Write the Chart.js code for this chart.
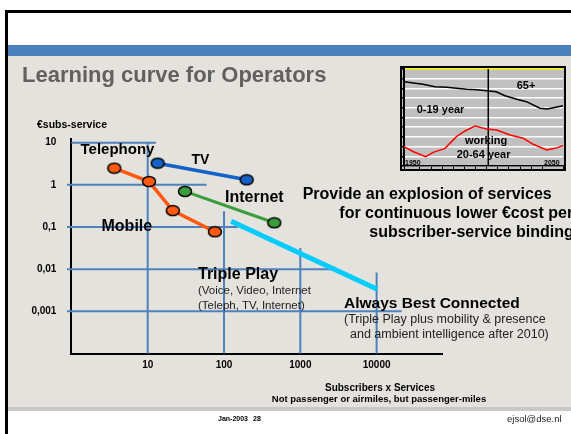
<!DOCTYPE html>
<html>
<head>
<meta charset="utf-8">
<script src="https://cdn.jsdelivr.net/npm/chart.js@4.4.0/dist/chart.umd.min.js"></script>
<style>
body { margin: 0; width: 571px; height: 434px; position: relative; overflow: hidden; background: #fff; font-family: "Liberation Sans", Arial, sans-serif; }
.box { position: absolute; }
.txt { position: absolute; white-space: nowrap; line-height: 1; color: #000; font-weight: bold; }
.thin { font-weight: normal; color: #222; }
#main { position: absolute; left: 0; top: 0; }
#inset { position: absolute; left: 400px; top: 66px; width: 166px; height: 105px; box-sizing: border-box; border: 2px solid #000; background: #c0c0c0; }
#insetChart { position: absolute; left: 0; top: 0; }
</style>
</head>
<body>
<div class="box" style="left:5px;top:10px;width:566px;height:3px;background:#000"></div>
<div class="box" style="left:5px;top:10px;width:3px;height:424px;background:#000"></div>
<div class="box" style="left:8px;top:45px;width:563px;height:11px;background:#4a80bc"></div>
<div class="box" style="left:8px;top:56px;width:563px;height:351px;background:#e4e2dc"></div>
<div class="box" style="left:8px;top:407px;width:563px;height:4px;background:#c8c8c8"></div>

<canvas id="main" width="571" height="434"></canvas>

<div id="inset"><canvas id="insetChart" width="162" height="101"></canvas></div>

<div class="txt" style="left:22px;top:63.5px;font-size:22px;color:#616161">Learning curve for Operators</div>
<div class="txt" style="left:37px;top:119px;font-size:10.5px">€subs-service</div>
<div class="txt" style="left:80.5px;top:141.3px;font-size:15px">Telephony</div>
<div class="txt" style="left:191.5px;top:151.6px;font-size:14px">TV</div>
<div class="txt" style="left:225px;top:189.4px;font-size:16px">Internet</div>
<div class="txt" style="left:101.5px;top:217.9px;font-size:16px">Mobile</div>
<div class="txt" style="left:198px;top:265.9px;font-size:16px">Triple Play</div>
<div class="txt thin" style="left:198px;top:284.7px;font-size:11.5px">(Voice, Video, Internet</div>
<div class="txt thin" style="left:198px;top:299.7px;font-size:11.5px">(Teleph, TV, Internet)</div>
<div class="txt" style="left:344px;top:294.8px;font-size:15.5px">Always Best Connected</div>
<div class="txt thin" style="left:344px;top:312.9px;font-size:12.5px">(Triple Play plus mobility &amp; presence</div>
<div class="txt thin" style="left:350px;top:327.9px;font-size:12.5px">and ambient intelligence after 2010)</div>
<div class="txt" style="left:302.7px;top:186.4px;font-size:16px">Provide an explosion of services</div>
<div class="txt" style="left:339.3px;top:205.4px;font-size:16px">for continuous lower €cost per</div>
<div class="txt" style="left:369.3px;top:224.4px;font-size:16px">subscriber-service binding</div>
<div class="txt" style="left:380px;top:382.5px;font-size:10px;transform:translateX(-50%)">Subscribers x Services</div>
<div class="txt" style="left:379px;top:393.9px;font-size:9.5px;transform:translateX(-50%)">Not passenger or airmiles, but passenger-miles</div>
<div class="txt" style="left:218px;top:415px;font-size:7px">Jan-2003</div>
<div class="txt" style="left:253px;top:415px;font-size:7px">28</div>
<div class="txt thin" style="left:507px;top:414px;font-size:9.5px">ejsol@dse.nl</div>

<div class="txt" style="left:516.7px;top:79.7px;font-size:11px">65+</div>
<div class="txt" style="left:416.7px;top:104.2px;font-size:11px">0-19 year</div>
<div class="txt" style="left:465px;top:135.4px;font-size:11px">working</div>
<div class="txt" style="left:456.7px;top:148.7px;font-size:11px">20-64 year</div>
<div class="txt" style="left:405px;top:159px;font-size:7px">1950</div>
<div class="txt" style="left:544px;top:159px;font-size:7px">2050</div>

<script>
// subscribers x services (x) against euro per subscriber-service (y)
const mobileX = [3.65, 10.4, 21.3, 76];
const mobileY = [2.49, 1.2, 0.245, 0.077];
const tvX = [13.5, 198];
const tvY = [3.27, 1.32];
const internetX = [30.8, 456];
const internetY = [0.7, 0.126];
const tripleX = [124, 10200];
const tripleY = [0.137, 0.00336];

const xTicks = [10, 100, 1000, 10000];
const xTickLabels = ["10", "100", "1000", "10000"];
const yTicks = [10, 1, 0.1, 0.01, 0.001];
const yTickLabels = ["10", "1", "0,1", "0,01", "0,001"];

// the staircase grid: each decade line only runs part way
const gridRows = [10, 1, 0.1, 0.01, 0.001];
const gridRowFrom = [1, 0.875, 0.875, 0.875, 0.875];
const gridRowTo = [12.8, 59, 152, 2850, 21300];
const gridCols = [10, 100, 1000, 10000];
const gridColTop = [10, 0.236, 0.032, 0.0083];

// inset: population shares 1950-2050
const oldYears = [1950, 1962, 1969.5, 1977, 1983, 1989.5, 1995.7, 2002, 2008, 2013.5, 2021, 2027, 2035.5, 2040, 2044, 2050];
const oldShare = [86.9, 84.2, 81.8, 81.1, 80.1, 79.1, 78.7, 77.6, 76.6, 72.5, 68.8, 66.3, 59.5, 58.8, 60.1, 62.2];
const youngYears = [1950, 1956, 1963.6, 1968.4, 1975.8, 1983, 1988.4, 1994.7, 2002, 2008.3, 2016.7, 2025, 2031.3, 2039.7, 2045, 2050];
const youngShare = [19.9, 14.7, 9.6, 14.1, 18.2, 30.2, 36.1, 41.2, 38.1, 37.1, 32, 28.6, 22.4, 16.5, 18.2, 20.9];
const nowYear = 2003;

const toPoints = (xs, ys) => xs.map((x, i) => ({ x: x, y: ys[i] }));

const ellipseMarker = (fill) => {
	const c = document.createElement("canvas");
	c.width = 16;
	c.height = 13;
	const g = c.getContext("2d");
	g.beginPath();
	g.ellipse(8, 6.5, 6.5, 5, 0, 0, Math.PI * 2);
	g.fillStyle = fill;
	g.fill();
	g.lineWidth = 1.5;
	g.strokeStyle = "#000";
	g.stroke();
	return c;
};

const gridColor = "#4f81bd";
const gridSets = [];
gridRows.forEach((v, i) => {
	gridSets.push({
		data: [{ x: gridRowFrom[i], y: v }, { x: gridRowTo[i], y: v }],
		borderColor: gridColor, borderWidth: 2, pointRadius: 0, showLine: true, clip: false, order: 10,
	});
});
gridCols.forEach((v, i) => {
	gridSets.push({
		data: [{ x: v, y: gridColTop[i] }, { x: v, y: 0.0001 }],
		borderColor: gridColor, borderWidth: 2, pointRadius: 0, showLine: true, clip: false, order: 10,
	});
});

const series = (xs, ys, color, width) => ({
	data: toPoints(xs, ys),
	borderColor: color,
	borderWidth: width,
	showLine: true,
	pointStyle: ellipseMarker(color),
	pointRadius: 6,
	clip: false,
	order: 1,
});

const tickFont = { family: "Liberation Sans", size: 10, weight: "bold" };

new Chart(document.getElementById("main"), {
	type: "scatter",
	data: {
		datasets: [
			...gridSets,
			{
				data: toPoints(tripleX, tripleY),
				borderColor: "#00ccff", borderWidth: 5, pointRadius: 0, showLine: true, order: 2,
			},
			series(mobileX, mobileY, "#ff5a10", 3.5),
			series(tvX, tvY, "#1462c8", 3.5),
			series(internetX, internetY, "#3a9c3a", 3),
		],
	},
	options: {
		responsive: false,
		animation: false,
		devicePixelRatio: 1,
		layout: { padding: { left: 0, top: 139, right: 129, bottom: 0 } },
		plugins: { legend: { display: false }, tooltip: { enabled: false } },
		scales: {
			x: {
				type: "logarithmic",
				min: 1,
				max: 71900,
				afterFit: (s) => { s.height = 80.5; },
				afterBuildTicks: (s) => { s.ticks = xTicks.map((v) => ({ value: v })); },
				grid: { display: false, drawTicks: false },
				border: { display: true, color: "#000", width: 2 },
				ticks: {
					color: "#000",
					font: tickFont,
					padding: 6,
					maxRotation: 0,
					autoSkip: false,
					callback: (v) => xTickLabels[xTicks.indexOf(v)],
				},
			},
			y: {
				type: "logarithmic",
				min: 0.0001,
				max: 12.24,
				afterFit: (s) => { s.width = 71.4; },
				afterBuildTicks: (s) => { s.ticks = yTicks.map((v) => ({ value: v })); },
				grid: { display: false, drawTicks: false },
				border: { display: true, color: "#000", width: 2 },
				ticks: {
					color: "#000",
					font: tickFont,
					padding: 15,
					autoSkip: false,
					callback: (v) => yTickLabels[yTicks.indexOf(v)],
				},
			},
		},
	},
});

new Chart(document.getElementById("insetChart"), {
	type: "scatter",
	data: {
		datasets: [
			{ data: toPoints(oldYears, oldShare), borderColor: "#000", borderWidth: 1.5, pointRadius: 0, showLine: true },
			{ data: toPoints(youngYears, youngShare), borderColor: "#ff0000", borderWidth: 1.5, pointRadius: 0, showLine: true },
			{ data: [{ x: nowYear, y: 0 }, { x: nowYear, y: 100 }], borderColor: "#000", borderWidth: 1.5, pointRadius: 0, showLine: true },
		],
	},
	options: {
		responsive: false,
		animation: false,
		devicePixelRatio: 1,
		layout: { padding: { left: 0, top: 1, right: 1, bottom: 0 } },
		plugins: { legend: { display: false }, tooltip: { enabled: false } },
		scales: {
			x: {
				type: "linear",
				min: 1950,
				max: 2050,
				afterFit: (s) => { s.height = 3; },
				grid: { drawOnChartArea: false, tickColor: "#000", tickLength: 3 },
				border: { color: "#000", width: 1.5 },
				ticks: { display: false, stepSize: 7 },
			},
			y: {
				min: 0,
				max: 100,
				afterFit: (s) => { s.width = 2; },
				grid: {
					color: (c) => (c.tick && c.tick.value === 100 ? "#ffff00" : "#ffffff"),
					lineWidth: 1.5,
					tickColor: "#000",
					tickLength: 3,
				},
				border: { color: "#000", width: 2 },
				ticks: { display: false, stepSize: 10 },
			},
		},
	},
});
</script>
</body>
</html>
